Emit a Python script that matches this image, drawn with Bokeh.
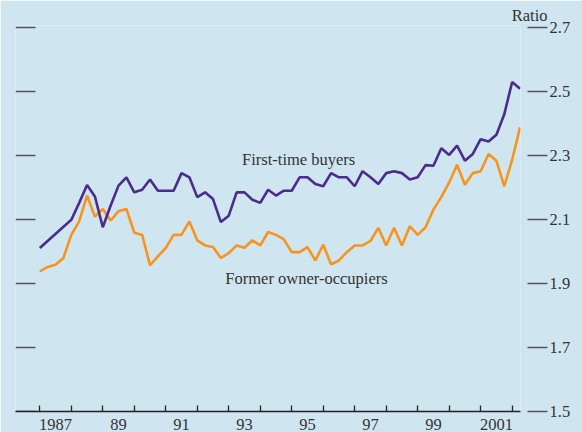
from bokeh.plotting import figure
from bokeh.models import FixedTicker, Label, Range1d
from bokeh.embed import file_html
from bokeh.resources import INLINE

# ---- data (quarterly, first point = 1987 Q1) ----
start_year = 1987
first_time_buyers = [
    2.011, None, None, None, 2.099, 2.152, 2.208, 2.172, 2.076, 2.144,
    2.206, 2.232, 2.185, 2.193, 2.225, 2.190, 2.190, 2.190, 2.245, 2.232,
    2.170, 2.185, 2.164, 2.092, 2.112, 2.185, 2.185, 2.162, 2.152, 2.193,
    2.175, 2.190, 2.190, 2.232, 2.232, 2.211, 2.204, 2.245, 2.232, 2.232,
    2.204, 2.251, 2.232, 2.211, 2.245, 2.251, 2.245, 2.225, 2.232, 2.270,
    2.268, 2.323, 2.302, 2.331, 2.284, 2.305, 2.351, 2.344, 2.365, 2.429,
    2.530, 2.509,
]
former_owner_occupiers = [
    1.938, 1.952, 1.959, 1.980, 2.052, 2.094, 2.175, 2.109, 2.133, 2.097,
    2.126, 2.133, 2.059, 2.052, 1.957, 1.985, 2.011, 2.052, 2.052, 2.094,
    2.035, 2.019, 2.014, 1.980, 1.995, 2.019, 2.012, 2.035, 2.019, 2.061,
    2.052, 2.038, 1.998, 1.998, 2.014, 1.972, 2.021, 1.960, 1.972, 1.998,
    2.019, 2.019, 2.033, 2.074, 2.019, 2.074, 2.019, 2.079, 2.052, 2.076,
    2.131, 2.170, 2.216, 2.271, 2.209, 2.245, 2.251, 2.305, 2.284, 2.204,
    2.287, 2.388,
]
tick_years = list(range(1987, 2003))
label_years = [1987, 1989, 1991, 1993, 1995, 1997, 1999, 2001]
year_labels = ["1987", "89", "91", "93", "95", "97", "99", "2001"]
y_ticks = [1.5, 1.7, 1.9, 2.1, 2.3, 2.5, 2.7]
y_tick_labels = ["1.5", "1.7", "1.9", "2.1", "2.3", "2.5", "2.7"]

BG = "#cfe6f0"
PURPLE = "#4b2b8e"
ORANGE = "#f7941d"
TEXT = "#333333"
TICK = "#555555"
FONT = "Liberation Serif"
FS = "16.5px"

x_all = [start_year + i / 4 for i in range(len(former_owner_occupiers))]
ft_x = [x for x, v in zip(x_all, first_time_buyers) if v is not None]
ft_y = [v for v in first_time_buyers if v is not None]

x0, x1 = 1986.228, 2002.265
y0, y1 = 1.5, 2.7064

p = figure(
    width=582, height=432,
    x_range=Range1d(x0, x1), y_range=Range1d(y0, y1),
    y_axis_location="right",
    output_backend="svg", toolbar_location=None,
    min_border_left=15, min_border_right=62, min_border_top=25, min_border_bottom=20,
    background_fill_color=BG, border_fill_color=BG, outline_line_color=None,
    title="Ratio",
)
p.grid.visible = False

# title used as the "Ratio" unit label at top right
p.title.align = "right"
p.title.offset = -27
p.title.standoff = 2
p.title.text_font = FONT
p.title.text_font_size = FS
p.title.text_font_style = "normal"
p.title.text_color = TEXT

# bottom axis: year boundary ticks (minor), labels centred in the year (major)
xa = p.xaxis[0]
xa.ticker = FixedTicker(ticks=[y + 0.5 for y in label_years], minor_ticks=tick_years)
xa.major_label_overrides = {y + 0.5: lab for y, lab in zip(label_years, year_labels)}
xa.major_tick_line_color = None
xa.minor_tick_in = 6
xa.minor_tick_out = 0
xa.minor_tick_line_color = "#222222"
xa.minor_tick_line_width = 1.3
xa.axis_line_color = "#222222"
xa.axis_line_width = 1.3
xa.major_label_standoff = 1
xa.major_label_text_font = FONT
xa.major_label_text_font_size = FS
xa.major_label_text_color = TEXT

# right axis with labels, ticks detached from the plot edge
ra = p.yaxis[0]
ra.ticker = FixedTicker(ticks=y_ticks)
ra.major_label_overrides = {v: s for v, s in zip(y_ticks, y_tick_labels)}
ra.major_tick_out = 27
ra.major_tick_in = -7
ra.major_tick_line_color = TICK
ra.major_tick_line_width = 1.5
ra.minor_tick_line_color = None
ra.axis_line_color = None
ra.major_label_standoff = 2
ra.major_label_text_font = FONT
ra.major_label_text_font_size = FS
ra.major_label_text_color = TEXT

# left-hand tick dashes at the same levels (20 px long)
dash_len = 20 * (x1 - x0) / 505
p.segment(x0=[x0] * len(y_ticks), x1=[x0 + dash_len] * len(y_ticks),
          y0=y_ticks, y1=y_ticks, line_color=TICK, line_width=1.5)

p.line(x_all, former_owner_occupiers, line_color=ORANGE, line_width=2.6)
p.line(ft_x, ft_y, line_color=PURPLE, line_width=2.6)

p.add_layout(Label(x=1995.22, y=2.2885, text="First-time buyers", text_align="center",
                   text_baseline="middle", text_font=FONT, text_font_size=FS,
                   text_color=TEXT))
p.add_layout(Label(x=1995.47, y=1.9166, text="Former owner-occupiers", text_align="center",
                   text_baseline="middle", text_font=FONT, text_font_size=FS,
                   text_color=TEXT))

open("out.html", "w").write(file_html(p, INLINE))
